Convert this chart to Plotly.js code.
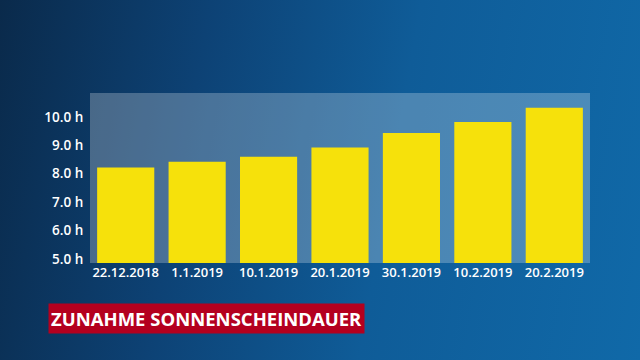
<!DOCTYPE html>
<html>
<head>
<meta charset="utf-8">
<script src="https://cdn.plot.ly/plotly-3.0.1.min.js"></script>
<style>
  html, body { margin: 0; padding: 0; }
  #chart {
    width: 640px; height: 360px;
    background: linear-gradient(100deg, #0a2a4b 0%, #0d4275 30%, #0f5c98 60%, #1069a8 100%);
  }
</style>
</head>
<body>
<div id="chart"></div>
<script>
const categories = ["22.12.2018", "1.1.2019", "10.1.2019", "20.1.2019", "30.1.2019", "10.2.2019", "20.2.2019"];
const sunHours = [8.22, 8.42, 8.60, 8.92, 9.43, 9.82, 10.32];
const yTicks = [5, 6, 7, 8, 9, 10];
const yTickLabels = ["5.0 h", "6.0 h", "7.0 h", "8.0 h", "9.0 h", "10.0 h"];
const titleText = "ZUNAHME SONNENSCHEINDAUER";

const data = [{
  type: "bar",
  x: categories,
  y: sunHours,
  marker: { color: "#f6e10b", line: { width: 0 } },
  hoverinfo: "none"
}];

const layout = {
  width: 640, height: 360,
  margin: { l: 90, r: 50, t: 93, b: 97, pad: 0 },
  paper_bgcolor: "rgba(0,0,0,0)",
  plot_bgcolor: "rgba(255,255,255,0.25)",
  bargap: 0.2,
  showlegend: false,
  font: { family: "Open Sans, sans-serif", color: "#ffffff" },
  xaxis: {
    type: "category",
    showgrid: false, zeroline: false, showline: false,
    ticks: "", ticklen: 0,
    tickfont: { size: 13, color: "#ffffff", family: "Open Sans, sans-serif", weight: 600 },
    automargin: false
  },
  yaxis: {
    range: [4.86, 10.84],
    tickmode: "array",
    tickvals: yTicks,
    ticktext: yTickLabels,
    showgrid: false, zeroline: false, showline: false,
    ticks: "outside", ticklen: 3, tickcolor: "rgba(0,0,0,0)",
    tickfont: { size: 13.5, color: "#ffffff", family: "Open Sans, sans-serif", weight: 600 },
    automargin: false
  },
  annotations: [{
    text: titleText,
    xref: "paper", yref: "paper",
    x: (48 - 90) / 500, y: (263 - 318) / 170,
    xanchor: "left", yanchor: "middle",
    showarrow: false,
    bgcolor: "#b4001f",
    borderpad: 2,
    font: { size: 18.5, color: "#ffffff", family: "Open Sans, sans-serif", weight: 700 }
  }]
};

Plotly.newPlot("chart", data, layout, { staticPlot: true, displayModeBar: false });
</script>
</body>
</html>
